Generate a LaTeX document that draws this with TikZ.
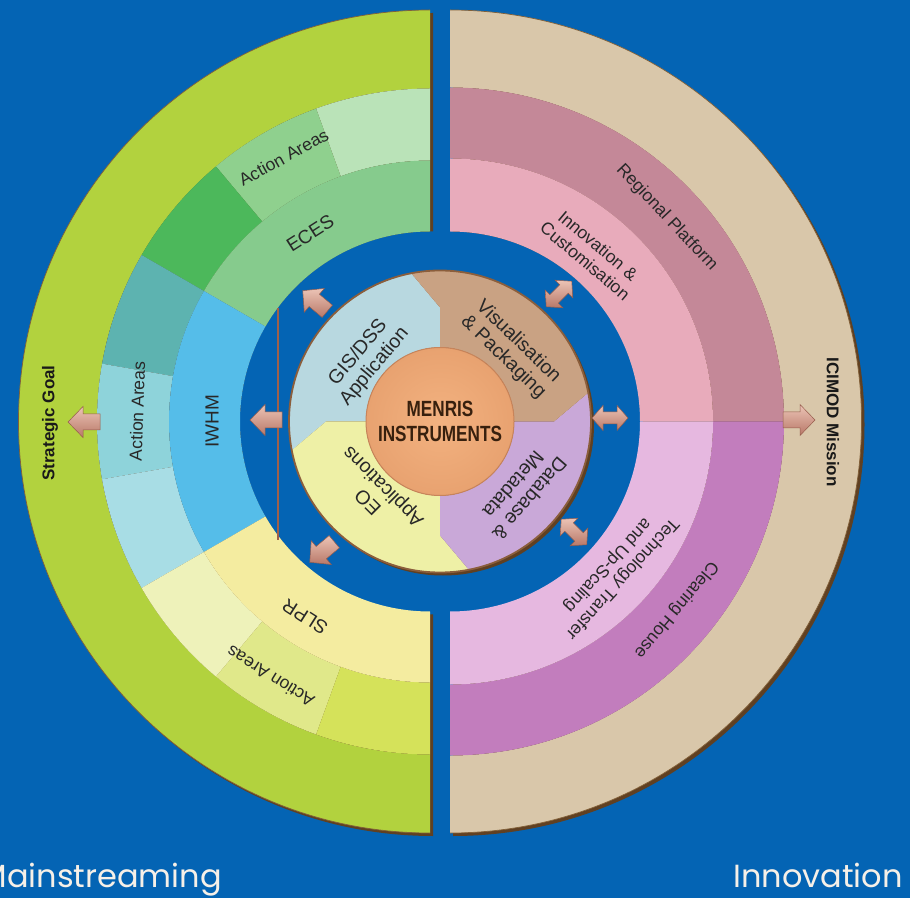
\documentclass[tikz,border=0pt]{standalone}
\usepackage{fontspec}
\setmainfont{Liberation Sans}
\newfontfamily\geofont{Poppins}
\definecolor{bgblue}{RGB}{4,100,180}
\definecolor{shadowbrown}{RGB}{96,64,34}
\definecolor{edgebrown}{RGB}{130,96,56}
\definecolor{goalgreen}{RGB}{178,210,62}
\definecolor{missiontan}{RGB}{217,199,170}
\definecolor{ecesA}{RGB}{186,227,184}
\definecolor{ecesB}{RGB}{143,208,142}
\definecolor{ecesC}{RGB}{76,184,91}
\definecolor{ecesIn}{RGB}{134,203,141}
\definecolor{iwhmA}{RGB}{93,179,176}
\definecolor{iwhmB}{RGB}{142,211,218}
\definecolor{iwhmC}{RGB}{168,221,229}
\definecolor{iwhmIn}{RGB}{85,189,233}
\definecolor{slprA}{RGB}{238,242,186}
\definecolor{slprB}{RGB}{224,232,138}
\definecolor{slprC}{RGB}{213,226,90}
\definecolor{slprIn}{RGB}{244,236,160}
\definecolor{regional}{RGB}{196,136,152}
\definecolor{innovcol}{RGB}{232,171,187}
\definecolor{clearing}{RGB}{194,125,189}
\definecolor{techcol}{RGB}{230,184,224}
\definecolor{gisCol}{RGB}{184,216,224}
\definecolor{visCol}{RGB}{201,162,131}
\definecolor{dbCol}{RGB}{201,168,216}
\definecolor{eoCol}{RGB}{238,240,166}
\definecolor{orangeA}{RGB}{243,178,128}
\definecolor{orangeB}{RGB}{232,162,112}
\definecolor{orangeEdge}{RGB}{200,132,90}
\definecolor{instEdge}{RGB}{139,94,60}
\definecolor{arrowlight}{RGB}{236,196,182}
\definecolor{arrowdark}{RGB}{184,120,104}
\definecolor{arrowedge}{RGB}{150,92,76}
\definecolor{textgray}{RGB}{40,40,40}
\definecolor{menrisbrown}{RGB}{55,32,14}
\definecolor{cream}{RGB}{246,240,232}
\definecolor{linebrown}{RGB}{160,96,74}
\newcommand{\annsector}[6]{\fill[#6] ([shift={(#4:#3)}]#1) arc[start angle=#4,end angle=#5,radius=#3pt] -- ([shift={(#5:#2)}]#1) arc[start angle=#5,end angle=#4,radius=#2pt] -- cycle;}
\tikzset{
  arrowfill/.style={draw=arrowedge, line width=0.5pt, top color=arrowlight, bottom color=arrowdark},
  sarr/.pic={\path[arrowfill] (-16,-8) -- (1,-8) -- (1,-15.5) -- (16,0) -- (1,15.5) -- (1,8) -- (-16,8) -- cycle;},
  darr/.pic={\path[arrowfill] (-18,0) -- (-7,-12.5) -- (-7,-6) -- (7,-6) -- (7,-12.5) -- (18,0) -- (7,12.5) -- (7,6) -- (-7,6) -- (-7,12.5) -- cycle;},
  ringtext/.style={font=\fontsize{17.5}{20}\selectfont, text=textgray, align=center, inner sep=0pt},
  bigring/.style={font=\fontsize{19}{21}\selectfont, text=textgray, align=center, inner sep=0pt},
  insttext/.style={font=\fontsize{19.5}{21.5}\selectfont, text=textgray, align=center, inner sep=0pt},
  sidetext/.style={font=\fontsize{17}{20}\selectfont\bfseries, text=black!90, inner sep=0pt},
  bottomtext/.style={font=\geofont\fontsize{32}{36}\selectfont, text=cream, anchor=base east, inner sep=0pt}
}
\begin{document}
\begin{tikzpicture}[x=1pt,y=1pt]
\useasboundingbox (0,0) rectangle (910,898);
\clip (0,0) rectangle (910,898);
\fill[bgblue] (0,0) rectangle (910,898);
\coordinate (CL) at (430,476.5);
\coordinate (CR) at (450,476.5);
\coordinate (CM) at (440,476.5);
\coordinate (CLs) at (433,473.5);
\coordinate (CRs) at (453,473.5);
% shadows
\annsector{CLs}{190}{411.5}{90}{270}{shadowbrown}
\annsector{CRs}{190}{411.5}{-90}{90}{shadowbrown}
\fill[bgblue] ([shift={(90:190)}]CL) arc[start angle=90,end angle=270,radius=190pt] -- ([shift={(-90:190)}]CR) arc[start angle=-90,end angle=90,radius=190pt] -- cycle;
% left half
\annsector{CL}{333}{411.5}{90}{270}{goalgreen}
\annsector{CL}{261}{333}{90}{110}{ecesA}
\annsector{CL}{261}{333}{110}{130}{ecesB}
\annsector{CL}{261}{333}{130}{150}{ecesC}
\annsector{CL}{261}{333}{150}{170}{iwhmA}
\annsector{CL}{261}{333}{170}{190}{iwhmB}
\annsector{CL}{261}{333}{190}{210}{iwhmC}
\annsector{CL}{261}{333}{210}{230}{slprA}
\annsector{CL}{261}{333}{230}{250}{slprB}
\annsector{CL}{261}{333}{250}{270}{slprC}
\annsector{CL}{190}{261}{90}{150}{ecesIn}
\annsector{CL}{190}{261}{150}{210}{iwhmIn}
\annsector{CL}{190}{261}{210}{270}{slprIn}
\draw[edgebrown, line width=0.7pt] ([shift={(90:411.5)}]CL) arc[start angle=90,end angle=270,radius=411.5pt];
% right half
\annsector{CR}{334}{411.5}{-90}{90}{missiontan}
\annsector{CR}{263}{334}{0}{90}{regional}
\annsector{CR}{190}{263}{0}{90}{innovcol}
\annsector{CR}{263}{334}{-90}{0}{clearing}
\annsector{CR}{190}{263}{-90}{0}{techcol}
\draw[edgebrown, line width=0.7pt] ([shift={(-90:411.5)}]CR) arc[start angle=-90,end angle=90,radius=411.5pt];
% thin vertical line
\coordinate (vt) at (278,590);
\coordinate (vb) at (278,358);
\draw[linebrown, line width=1.2pt] (vt) -- (vb);
% instrument circle
\fill[shadowbrown] ([shift={(3,-3)}]CM) circle[radius=151pt];
\begin{scope}[shift={(CM)}]
  \foreach \rot/\col in {0/gisCol, 90/eoCol, 180/dbCol, 270/visCol}{
    \fill[\col, rotate=\rot] (90:74) arc[start angle=90,end angle=180,radius=74pt] -- (180:114) -- (191:151) arc[start angle=191,end angle=101,radius=151pt] -- (90:114) -- cycle;
  }
\end{scope}
\draw[instEdge, line width=1.8pt] (CM) circle[radius=151pt];
\fill[inner color=orangeA, outer color=orangeB] (CM) circle[radius=74pt];
\draw[orangeEdge, line width=1pt] (CM) circle[radius=74pt];
% arrows
\pic[rotate=180] at (84,476) {sarr};
\pic[rotate=180] at (266,478) {sarr};
\pic[rotate=140] at (315,597) {sarr};
\pic[rotate=220] at (322,346) {sarr};
\pic[rotate=0] at (799,478) {sarr};
\pic[rotate=45] at (559,604) {darr};
\pic[rotate=0] at (610,480) {darr};
\pic[rotate=-45] at (574,366) {darr};
% ring texts
\node[ringtext, rotate=29] (aaE) at ([shift={(119:302)}]CL) {Action Areas};
\node[bigring, rotate=32.5] (eces) at ([shift={(122.5:223)}]CL) {ECES};
\node[ringtext, rotate=88] (aaI) at ([shift={(178:293)}]CL) {Action Areas};
\node[bigring, rotate=90] (iwhm) at ([shift={(180:218)}]CL) {IWHM};
\node[bigring, rotate=147.4] (slpr) at ([shift={(237.4:232)}]CL) {SLPR};
\node[ringtext, rotate=148] (aaS) at ([shift={(238:301)}]CL) {Action Areas};
\node[ringtext, rotate=-46.8] (regp) at ([shift={(43.2:297.5)}]CR) {Regional Platform};
\node[ringtext, rotate=-40.1] (innov) at ([shift={(49.9:220)}]CR) {Innovation \&\\Customisation};
\node[ringtext, rotate=227.6] (tech) at ([shift={(-42.4:223)}]CR) {Technology Transfer\\and Up-Scaling};
\node[ringtext, rotate=230.2] (clear) at ([shift={(-39.8:294)}]CR) {Clearing House};
% instrument texts
\node[insttext, rotate=50] (gis) at ([shift={(140:96)}]CM) {GIS/DSS\\Application};
\node[insttext, rotate=-44] (vis) at ([shift={(45.6:101)}]CM) {Visualisation\\\& Packaging};
\node[insttext, rotate=229] (db) at ([shift={(-40.7:108)}]CM) {Database \&\\Metadata};
\node[insttext, rotate=135] (eo) at ([shift={(228.6:96)}]CM) {EO\\Applications};
\node[font=\fontsize{22}{25}\selectfont\bfseries, text=menrisbrown, align=center, inner sep=0pt] (menris) at (CM) {\scalebox{0.78}[1]{MENRIS}\\\scalebox{0.78}[1]{INSTRUMENTS}};
% side texts
\node[sidetext, rotate=90] (goal) at (50,475) {Strategic Goal};
\node[sidetext, rotate=-90] (mission) at (833,476) {ICIMOD Mission};
% bottom texts
\node[bottomtext] (mainst) at (222,11) {Mainstreaming};
\node[bottomtext] (innovw) at (903,11) {Innovation};
\end{tikzpicture}
\end{document}
